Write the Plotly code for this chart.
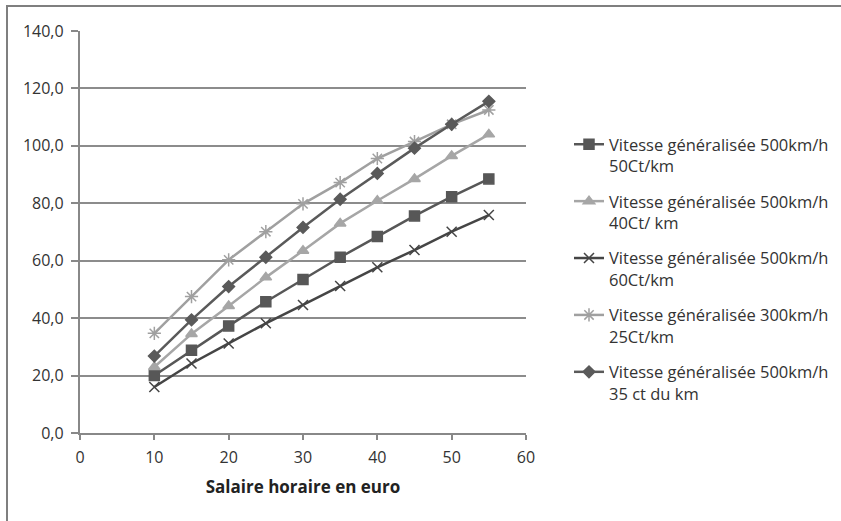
import plotly.graph_objects as go

salaire = [10, 15, 20, 25, 30, 35, 40, 45, 50, 55]

v500_50 = [20.0, 28.8, 37.3, 45.7, 53.5, 61.2, 68.4, 75.6, 82.3, 88.5]
v500_40 = [23.0, 34.5, 44.2, 54.2, 63.5, 73.0, 80.9, 88.5, 96.5, 104.0]
v500_60 = [16.0, 24.2, 31.2, 38.2, 44.6, 51.2, 57.7, 63.7, 70.1, 75.9]
v300_25 = [34.7, 47.5, 60.3, 70.1, 79.8, 87.2, 95.6, 101.5, 107.5, 112.5]
v500_35 = [26.8, 39.4, 51.0, 61.2, 71.6, 81.4, 90.4, 99.2, 107.5, 115.5]

names = [
    "Vitesse généralisée 500km/h<br>50Ct/km",
    "Vitesse généralisée 500km/h<br>40Ct/ km",
    "Vitesse généralisée 500km/h<br>60Ct/km",
    "Vitesse généralisée 300km/h<br>25Ct/km",
    "Vitesse généralisée 500km/h<br>35 ct du km",
]

series = [v500_50, v500_40, v500_60, v300_25, v500_35]
colors = ["#575757", "#a6a6a6", "#454545", "#a0a0a0", "#5a5a5a"]
symbols = ["square", "triangle-up", "x-thin-open", "asterisk-open", "diamond"]
sizes = [10, 10, 10, 11, 9]

W, H = 841, 521
ml, mr, mt, mb = 80, 315, 31, 88

fig = go.Figure()
for i, (ys, nm) in enumerate(zip(series, names)):
    fig.add_trace(go.Scatter(
        x=salaire, y=ys, name=nm, mode="lines+markers",
        legendgroup=f"g{i}",
        line=dict(color=colors[i], width=2.5),
        marker=dict(symbol=symbols[i], size=sizes[i], color=colors[i],
                    line=dict(color=colors[i], width=1.5)),
    ))

font_family = "'Open Sans', Lato, sans-serif"
pw = W - ml - mr
ph = H - mt - mb

fig.update_layout(
    width=W, height=H,
    margin=dict(l=ml, r=mr, t=mt, b=mb, autoexpand=False),
    paper_bgcolor="white", plot_bgcolor="white",
    separators=", ",
    font=dict(family=font_family, size=16, color="#333333"),
    xaxis=dict(
        range=[0, 60], dtick=10, tick0=0,
        showgrid=False, zeroline=False,
        showline=True, linecolor="#888888", linewidth=2,
        ticks="outside", ticklen=5, tickcolor="#888888", tickwidth=1.5,
        ticklabelstandoff=4,
        tickfont=dict(size=16, color="#333333"),
        title=dict(text="<b>Salaire horaire en euro</b>", font=dict(size=17, color="#222222"), standoff=14),
    ),
    yaxis=dict(
        range=[0, 140], dtick=20, tick0=0, tickformat=".1f",
        ticksuffix="\u00a0",
        showgrid=True, gridcolor="#8c8c8c", gridwidth=1.5,
        zeroline=False,
        showline=True, linecolor="#888888", linewidth=2,
        ticks="outside", ticklen=7, tickcolor="#888888", tickwidth=1.5,
        tickfont=dict(size=16, color="#333333"),
    ),
    legend=dict(
        x=(569 - ml) / pw, xanchor="left",
        y=1 - (127 - mt) / ph, yanchor="top",
        font=dict(size=16.5, color="#333333"),
        tracegroupgap=11,
        valign="top",
        itemwidth=30,
        bgcolor="rgba(0,0,0,0)",
    ),
    showlegend=True,
    shapes=[dict(
        type="rect", xref="paper", yref="paper",
        x0=(7 - ml) / pw, x1=(W + 10 - ml) / pw,
        y0=1 + (mt - 6) / ph, y1=-(mb + 10) / ph,
        line=dict(color="#7f7f7f", width=2), fillcolor="rgba(0,0,0,0)",
        layer="below",
    )],
)

fig.write_html(
    "out.html",
    config={"displayModeBar": False},
    post_script="document.body.style.margin='0';document.body.style.padding='0';",
)
